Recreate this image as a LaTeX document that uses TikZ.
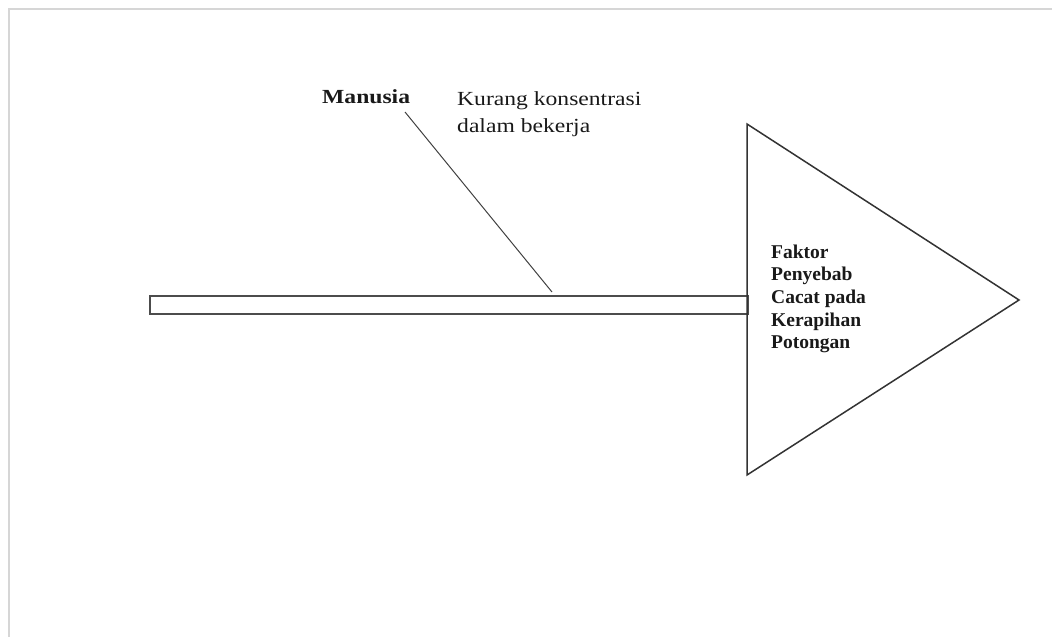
\documentclass[tikz,border=0pt]{standalone}
\usepackage{fontspec}
\setmainfont{Liberation Serif}
\newfontfamily\widefont[FakeStretch=1.18]{Liberation Serif}
\begin{document}
\begin{tikzpicture}[x=1pt,y=-1pt,
  frame/.style={draw=black!16,line width=2pt},
  shape line/.style={draw=black!80,line width=1.5pt},
  lbl/.style={inner sep=0pt,text=black!90},
  toplbl/.style={lbl,font=\widefont\fontsize{20}{27.5}\selectfont},
  headlbl/.style={lbl,font=\bfseries\fontsize{19.5}{22.6}\selectfont,align=left}]
\useasboundingbox (0,0) rectangle (1052,637);
\draw[frame] (8.5,637) -- (8.5,8.5) -- (1052,8.5);
% spine
\node[shape line,draw=black!70,rectangle,minimum width=598pt,minimum height=18pt,inner sep=0pt,anchor=north west] (spine) at (149,295) {};
% head
\coordinate (h1) at (747,124);
\coordinate (h2) at (1019,300);
\coordinate (h3) at (747,475);
\draw[shape line,line join=miter] (h1) -- (h2) -- (h3) -- cycle;
\node[headlbl,anchor=north west] (head) at (771,244.6) {Faktor\\Penyebab\\Cacat pada\\Kerapihan\\Potongan};
% bone
\coordinate (b1) at (405,112);
\coordinate (b2) at (552,292);
\draw[draw=black!75,line width=1pt] (b1) -- (b2);
\node[toplbl,font=\widefont\bfseries\fontsize{20}{24}\selectfont,anchor=base west] (man) at (322,103) {Manusia};
\node[toplbl,align=left,anchor=north west] (cause) at (457,91.3) {Kurang konsentrasi\\dalam bekerja};
\end{tikzpicture}
\end{document}
